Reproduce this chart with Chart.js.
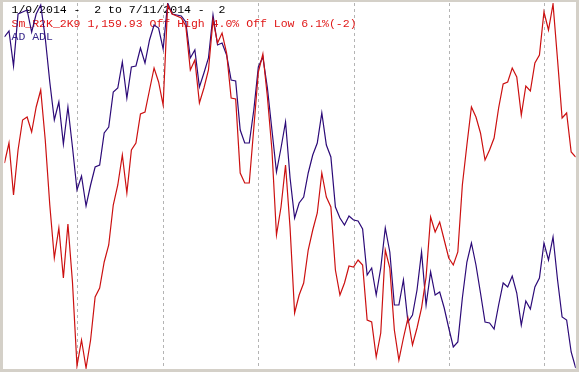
<!DOCTYPE html>
<html>
<head>
<meta charset="utf-8">
<script src="https://cdn.jsdelivr.net/npm/chart.js@4.4.1/dist/chart.umd.min.js"></script>
<style>
  html, body { margin: 0; padding: 0; background: #fff; }
  #wrap { position: relative; width: 579px; height: 372px; }
</style>
</head>
<body>
<div id="wrap"><canvas id="chart" width="579" height="372"></canvas></div>
<script>
// header text lines
const headerLines = [
  { text: '1/9/2014 -  2 to 7/11/2014 -  2', color: '#000000' },
  { text: 'Sm_R2K_2K9 1,159.93 Off High 4.0% Off Low 6.1%(-2)', color: '#e01818' },
  { text: 'AD ADL', color: '#3a2a8c' }
];

// trading-day index where each month starts (Feb..Jul)
const monthStarts = [16, 35, 56, 77, 98, 119];

// Small cap index (red), relative units
const r2k = [
  206, 226, 174, 219, 249, 252, 237, 262, 279, 229, 164, 111, 141, 91, 145, 87,
  3, 29, 1, 29, 72, 81, 107, 124, 164, 184, 214, 176, 219, 226, 255, 257, 279, 301, 287,
  264, 364, 355, 353, 351, 343, 299, 309, 266, 281, 299, 349, 326, 336, 316, 271, 270, 196, 186, 186, 241,
  297, 315, 272, 219, 134, 162, 204, 141, 56, 74, 86, 119, 139, 156, 196, 172, 162, 99, 74, 86, 103,
  102, 109, 104, 49, 47, 12, 36, 119, 101, 39, 9, 31, 51, 24, 41, 61, 92, 152, 137, 147, 129,
  111, 104, 117, 184, 224, 262, 252, 236, 209, 219, 231, 261, 285, 287, 301, 292, 254, 283, 278, 306, 314,
  357, 339, 365, 309, 251, 256, 217, 212
];

// Advance/decline line (blue), relative units
const adl = [
  332, 338, 303, 355, 357, 359, 337, 355, 364, 331, 287, 249, 267, 225, 262, 222,
  179, 193, 163, 184, 202, 204, 236, 242, 277, 281, 307, 271, 302, 303, 321, 306, 329, 344, 341,
  320, 366, 355, 354, 353, 347, 311, 319, 282, 296, 311, 354, 324, 326, 314, 289, 288, 239, 226, 226, 259,
  302, 312, 281, 239, 197, 221, 247, 191, 151, 166, 172, 196, 214, 226, 256, 224, 212, 162, 151, 144, 153,
  149, 148, 140, 94, 101, 74, 101, 141, 117, 64, 64, 89, 47, 54, 79, 117, 64, 97, 74, 77, 61,
  41, 22, 27, 71, 107, 126, 104, 76, 47, 46, 40, 64, 86, 82, 93, 76, 44, 68, 60, 82, 91,
  126, 109, 132, 89, 52, 49, 17, 1
];

const toPoints = arr => arr.map((v, i) => ({ x: i, y: v }));

// dashed month separators + header text, drawn under the lines
const backdrop = {
  id: 'backdrop',
  beforeDatasetsDraw(chart) {
    const { ctx, chartArea, scales } = chart;
    ctx.save();
    ctx.strokeStyle = '#b4b4b4';
    ctx.lineWidth = 1;
    ctx.setLineDash([3, 3]);
    monthStarts.forEach(idx => {
      const x = Math.round(scales.x.getPixelForValue(idx)) + 0.5;
      ctx.beginPath();
      ctx.moveTo(x, chartArea.top);
      ctx.lineTo(x, chartArea.bottom);
      ctx.stroke();
    });
    ctx.setLineDash([]);
    ctx.font = "11.5px 'Liberation Mono', 'Courier New', monospace";
    ctx.textBaseline = 'alphabetic';
    headerLines.forEach((ln, i) => {
      ctx.fillStyle = ln.color;
      ctx.fillText(ln.text, 11.5, 13 + i * 13.5);
    });
    ctx.restore();
  }
};

// grey window frame on top
const frame = {
  id: 'frame',
  afterDraw(chart) {
    const { ctx, width, height } = chart;
    ctx.save();
    ctx.fillStyle = '#d4d0c8';
    ctx.fillRect(0, 0, width, 2);
    ctx.fillRect(0, 0, 3, height);
    ctx.fillRect(width - 3, 0, 3, height);
    ctx.fillRect(0, height - 3, width, 3);
    ctx.restore();
  }
};

new Chart(document.getElementById('chart').getContext('2d'), {
  type: 'line',
  data: {
    datasets: [
      {
        label: 'Sm_R2K_2K9',
        data: toPoints(r2k),
        borderColor: '#cc1010',
        borderWidth: 1.2,
        pointRadius: 0,
        tension: 0,
        fill: false
      },
      {
        label: 'AD ADL',
        data: toPoints(adl),
        borderColor: '#2c0a78',
        borderWidth: 1.2,
        pointRadius: 0,
        tension: 0,
        fill: false
      }
    ]
  },
  options: {
    responsive: false,
    animation: false,
    layout: { padding: { left: 4.45, right: 3.3, top: 3, bottom: 3 } },
    plugins: {
      legend: { display: false },
      tooltip: { enabled: false }
    },
    scales: {
      x: { type: 'linear', min: 0, max: 126, display: false },
      y: { min: 0, max: 366, display: false }
    }
  },
  plugins: [backdrop, frame]
});
</script>
</body>
</html>
